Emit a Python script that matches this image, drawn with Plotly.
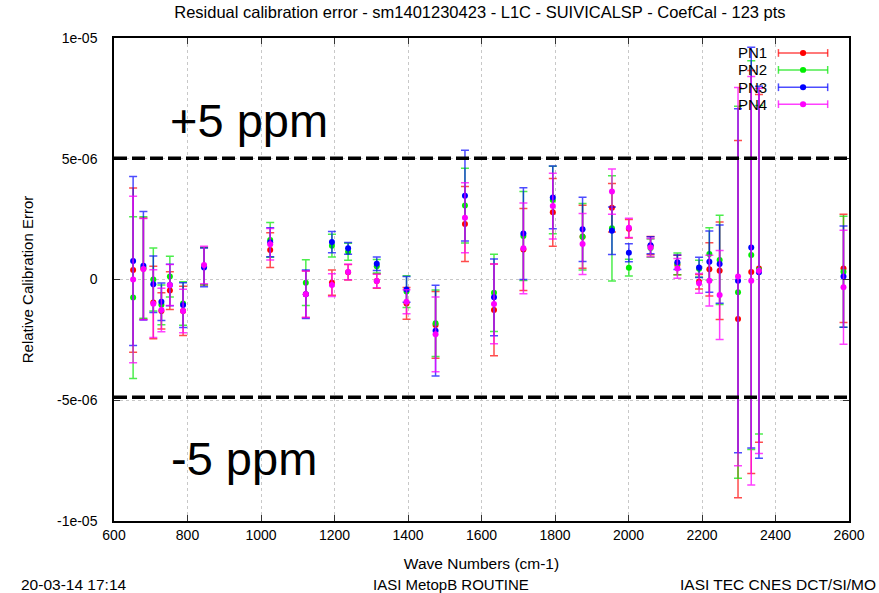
import plotly.graph_objects as go

# Wave numbers (cm-1)
wavenumbers = [652, 680, 707, 729, 752, 788, 845, 1025, 1122, 1193, 1237, 1315, 1396, 1475,
               1555, 1634, 1714, 1794, 1875, 1955, 2001, 2060, 2133, 2192, 2220, 2248,
               2298, 2334, 2355, 2585]

# Relative calibration error (ppm = 1e-6) and error half-widths
pn1_val = [0.39, 0.45, -0.95, -1.30, -0.46, -1.30, 0.55, 1.22, -0.61, -0.13, 0.30, -0.06, -0.99, -1.88,
           2.30, -1.26, 1.24, 2.78, 1.77, 2.97, 2.10, 1.40, 0.60, -0.09, 0.42, 0.36,
           -1.64, 0.31, 0.46, 0.46]
pn1_err = [3.40, 2.10, 1.50, 0.75, 0.78, 1.02, 0.78, 0.72, 0.96, 0.52, 0.32, 0.30, 0.66, 1.38,
           1.55, 1.90, 1.70, 1.40, 1.30, 1.00, 0.38, 0.38, 0.40, 0.30, 1.10, 2.02,
           7.40, 8.34, 7.20, 2.24]

pn2_val = [-0.75, 0.50, 0.00, -1.05, 0.12, -0.99, 0.55, 1.64, -0.13, 1.40, 1.15, 0.55, -0.50, -1.81,
           3.06, -0.55, 1.80, 3.29, 1.77, 2.12, 0.49, 1.30, 0.65, 0.45, 1.06, 0.81,
           -0.53, 1.01, 0.40, 0.32]
pn2_err = [3.35, 2.10, 1.30, 0.82, 0.84, 0.90, 0.77, 0.72, 0.95, 0.47, 0.35, 0.28, 0.66, 1.38,
           1.55, 1.60, 1.84, 1.40, 1.38, 2.18, 0.35, 0.38, 0.45, 0.35, 1.08, 1.85,
           7.70, 8.05, 6.80, 2.30]

pn3_val = [0.77, 0.57, -0.20, -0.92, -0.23, -1.06, 0.50, 1.54, -0.61, 1.55, 1.29, 0.65, -0.41, -2.12,
           3.47, -0.74, 1.90, 3.40, 2.08, 2.02, 1.11, 1.42, 0.71, 0.50, 0.74, 0.64,
           -0.05, 1.32, 0.30, 0.12]
pn3_err = [3.50, 2.25, 1.17, 0.78, 0.86, 0.93, 0.80, 0.60, 1.00, 0.44, 0.24, 0.28, 0.53, 1.88,
           1.88, 1.59, 1.90, 1.30, 1.33, 0.98, 0.37, 0.35, 0.30, 0.42, 1.27, 1.62,
           7.12, 8.30, 7.70, 2.10]

pn4_val = [0.00, 0.43, -1.00, -1.26, -0.23, -1.30, 0.60, 1.46, -0.61, -0.23, 0.31, -0.06, -0.92, -2.27,
           2.56, -1.01, 1.29, 3.04, 1.47, 3.64, 2.14, 1.32, 0.46, -0.16, -0.05, -0.64,
           0.12, -0.05, 0.36, -0.32]
pn4_err = [3.45, 2.10, 1.40, 0.90, 0.85, 0.90, 0.78, 0.65, 0.96, 0.47, 0.32, 0.28, 0.50, 1.55,
           1.45, 1.65, 1.88, 1.36, 1.26, 0.94, 0.40, 0.38, 0.41, 0.41, 1.05, 1.84,
           7.83, 8.46, 7.56, 2.36]

series_names = ["PN1", "PN2", "PN3", "PN4"]
series_vals = [pn1_val, pn2_val, pn3_val, pn4_val]
series_errs = [pn1_err, pn2_err, pn3_err, pn4_err]
colors = ["#ff0000", "#00ee00", "#0000ff", "#ff00ff"]
err_colors = ["rgba(255,0,0,0.7)", "rgba(0,230,0,0.7)", "rgba(0,0,255,0.7)", "rgba(255,0,255,0.75)"]

limit_hi = 5.02e-6
limit_lo = -4.88e-6

FONT = "Liberation Sans, Arial, sans-serif"

fig = go.Figure()
for name, vals, errs, c, ec in zip(series_names, series_vals, series_errs, colors, err_colors):
    fig.add_trace(go.Scatter(
        x=wavenumbers, y=[v * 1e-6 for v in vals], name=name, mode="markers",
        marker=dict(color=c, size=6, symbol="circle", line=dict(width=0)),
        error_y=dict(type="data", array=[e * 1e-6 for e in errs], visible=True,
                     color=ec, thickness=1.5, width=4),
        showlegend=False,
    ))

# dashed +/-5 ppm limits
for yv in (limit_hi, limit_lo):
    fig.add_shape(type="line", xref="paper", x0=0, x1=1, yref="y", y0=yv, y1=yv,
                  line=dict(color="black", width=3.5, dash="13px,5px"), layer="above")

# manual gnuplot-style legend (text right, sample on the right)
leg_y = [0.969, 0.934, 0.898, 0.863]
for i, (name, c, ec) in enumerate(zip(series_names, colors, err_colors)):
    y = leg_y[i]
    fig.add_annotation(xref="paper", yref="paper", x=0.891, y=y, text=name, showarrow=False,
                       xanchor="right", yanchor="middle", font=dict(family=FONT, size=15, color="black"))
    fig.add_shape(type="line", xref="paper", yref="paper", x0=0.904, x1=0.971, y0=y, y1=y,
                  line=dict(color=ec, width=1.5))
    for xc in (0.904, 0.971):
        fig.add_shape(type="line", xref="paper", yref="paper", x0=xc, x1=xc, y0=y - 0.008, y1=y + 0.008,
                      line=dict(color=ec, width=1.5))
    fig.add_shape(type="circle", xref="paper", yref="paper", x0=0.9375 - 0.0042, x1=0.9375 + 0.0042,
                  y0=y - 0.0062, y1=y + 0.0062, line=dict(width=0), fillcolor=c)

# big labels
fig.add_annotation(x=968, y=6.6e-6, text="+5 ppm", showarrow=False,
                   font=dict(family=FONT, size=47, color="black"))
fig.add_annotation(x=955, y=-7.4e-6, text="-5 ppm", showarrow=False,
                   font=dict(family=FONT, size=47, color="black"))

# footer
fig.add_annotation(xref="paper", yref="paper", x=-0.129, y=-0.131, text="20-03-14 17:14", showarrow=False,
                   xanchor="left", yanchor="middle", font=dict(family=FONT, size=15.5, color="black"))
fig.add_annotation(xref="paper", yref="paper", x=0.459, y=-0.131, text="IASI MetopB ROUTINE", showarrow=False,
                   xanchor="center", yanchor="middle", font=dict(family=FONT, size=15, color="black"))
fig.add_annotation(xref="paper", yref="paper", x=1.04, y=-0.131, text="IASI TEC CNES DCT/SI/MO", showarrow=False,
                   xanchor="right", yanchor="middle", font=dict(family=FONT, size=15.5, color="black"))

fig.update_layout(
    width=879, height=593,
    margin=dict(l=114, r=30, t=38, b=72),
    paper_bgcolor="white", plot_bgcolor="white",
    font=dict(family=FONT, size=13, color="black"),
    title=dict(text="Residual calibration error - sm1401230423 - L1C - SUIVICALSP - CoefCal - 123 pts",
               x=0.546, xanchor="center", y=0.98, yanchor="middle", font=dict(family=FONT, size=16.5)),
)
fig.update_xaxes(
    range=[600, 2600], tickvals=list(range(600, 2601, 200)),
    showline=True, linecolor="black", linewidth=1.5, mirror="allticks",
    ticks="inside", ticklen=6, tickcolor="#333", tickwidth=1,
    showgrid=True, gridcolor="#c8c8c8", griddash="dot", gridwidth=1, zeroline=False,
    title=dict(text="Wave Numbers (cm-1)", standoff=17, font=dict(family=FONT, size=15.5)),
    tickfont=dict(family=FONT, size=14),
)
fig.update_yaxes(
    range=[-1e-5, 1e-5], tickvals=[-1e-5, -5e-6, 0, 5e-6, 1e-5],
    ticktext=["-1e-05", "-5e-06", "0", "5e-06", "1e-05"],
    showline=True, linecolor="black", linewidth=1.5, mirror="allticks",
    ticks="inside", ticklen=6, tickcolor="#333", tickwidth=1,
    showgrid=True, gridcolor="#c8c8c8", griddash="dot", gridwidth=1, zeroline=False,
    ticklabelstandoff=12,
    title=dict(text="Relative Calibration Error", standoff=20, font=dict(family=FONT, size=15)),
    tickfont=dict(family=FONT, size=14),
)

fig.write_html("out.html", config={"displayModeBar": False},
               post_script="document.body.style.margin='0px';")
